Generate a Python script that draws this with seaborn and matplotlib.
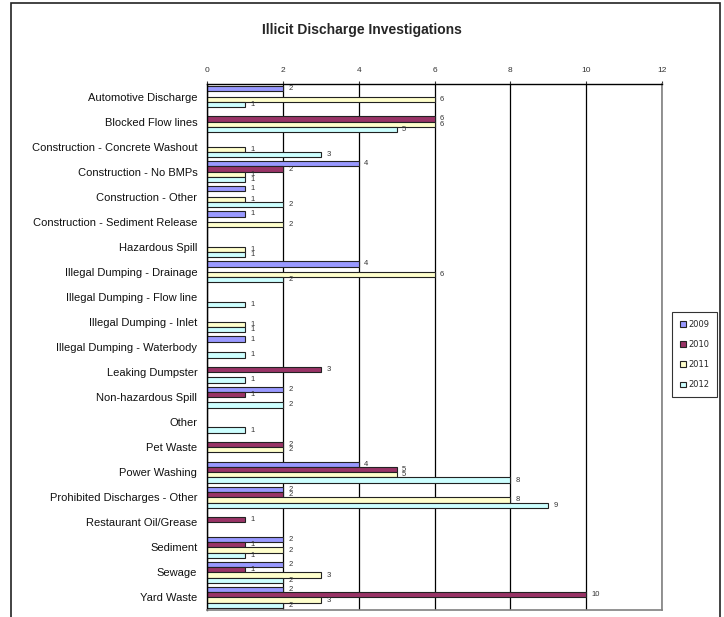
import matplotlib
matplotlib.use("Agg")
import matplotlib.pyplot as plt
from matplotlib.patches import Rectangle
from matplotlib.ticker import FixedLocator
import seaborn as sns
import pandas as pd
import numpy as np

categories = [
    "Automotive Discharge", "Blocked Flow lines", "Construction - Concrete Washout",
    "Construction - No BMPs", "Construction - Other", "Construction - Sediment Release",
    "Hazardous Spill", "Illegal Dumping - Drainage", "Illegal Dumping - Flow line",
    "Illegal Dumping - Inlet", "Illegal Dumping - Waterbody", "Leaking Dumpster",
    "Non-hazardous Spill", "Other", "Pet Waste", "Power Washing",
    "Prohibited Discharges - Other", "Restaurant Oil/Grease", "Sediment", "Sewage",
    "Yard Waste",
]
years = ["2009", "2010", "2011", "2012"]
v2009 = [2, 0, 0, 4, 1, 1, 0, 4, 0, 0, 1, 0, 2, 0, 0, 4, 2, 0, 2, 2, 2]
v2010 = [0, 6, 0, 2, 0, 0, 0, 0, 0, 0, 0, 3, 1, 0, 2, 5, 2, 1, 1, 1, 10]
v2011 = [6, 6, 1, 1, 1, 2, 1, 6, 0, 1, 0, 0, 0, 0, 2, 5, 8, 0, 2, 3, 3]
v2012 = [1, 5, 3, 1, 2, 0, 1, 2, 1, 1, 1, 1, 2, 1, 0, 8, 9, 0, 1, 2, 2]
colors = ["#9999FF", "#993366", "#FFFFCC", "#CCFFFF"]

rows = []
for yr, vals in zip(years, [v2009, v2010, v2011, v2012]):
    for c, v in zip(categories, vals):
        if v > 0:
            rows.append({"Category": c, "Year": yr, "Count": v})
df = pd.DataFrame(rows)

sns.set_style("white")
plt.rcParams["font.family"] = ["Liberation Sans", "DejaVu Sans"]

W, H = 724, 617
fig = plt.figure(figsize=(W / 100, H / 100), dpi=100)
fig.patch.set_facecolor("white")
L, R, T, B = 207, 662, 84, 610
ax = fig.add_axes([L / W, 1 - B / H, (R - L) / W, (B - T) / H])

sns.barplot(data=df, y="Category", x="Count", hue="Year", order=categories,
            hue_order=years, palette=colors, orient="h", width=0.84,
            edgecolor="#222222", linewidth=0.8, saturation=1, ax=ax, legend=True)

for cont in ax.containers:
    ax.bar_label(cont, labels=[f"{int(b.get_width())}" for b in cont],
                 padding=4, fontsize=5.5, color="#333333")

ax.set_xlim(0, 12)
ax.set_ylim(len(categories) - 0.5, -0.5)
ax.xaxis.tick_top()
ax.set_xticks(range(0, 13, 2))
ax.tick_params(axis="x", labelsize=6, length=2, width=0.8, pad=5, colors="#333333")
ax.xaxis.grid(True, color="black", linewidth=0.9)
ax.set_axisbelow(True)
ax.set_xlabel("")
ax.set_ylabel("")

ax.tick_params(axis="y", which="major", length=0, labelsize=8, pad=7, labelcolor="#111111")
ax.yaxis.set_minor_locator(FixedLocator(np.arange(-0.5, len(categories), 1.0)))
ax.tick_params(axis="y", which="minor", length=3, width=0.8, direction="out", color="black")

for s in ["top", "left"]:
    ax.spines[s].set_color("black")
    ax.spines[s].set_linewidth(1.0)
for s in ["right", "bottom"]:
    ax.spines[s].set_color("#808080")
    ax.spines[s].set_linewidth(1.2)

handles, labels = ax.get_legend_handles_labels()
ax.get_legend().remove()
leg = fig.legend(handles, labels, loc="center",
                 bbox_to_anchor=(694.5 / W, 1 - 354.5 / H),
                 handlelength=0.7, handleheight=0.7,
                 labelspacing=1.35, handletextpad=0.3, borderpad=0.9,
                 borderaxespad=0, fancybox=False, frameon=True,
                 prop={"family": "DejaVu Sans", "size": 6})
leg.get_frame().set_edgecolor("black")
leg.get_frame().set_linewidth(0.8)

fig.text(362 / W, 1 - 30 / H, "Illicit Discharge Investigations", ha="center",
         va="center", fontsize=10, fontweight="bold")

fig.add_artist(Rectangle((11 / W, -0.02), (720 - 11) / W, (H - 3) / H + 0.02,
                         transform=fig.transFigure, fill=False, ec="#222222", lw=1.2))

fig.savefig("out.png", dpi=100)
